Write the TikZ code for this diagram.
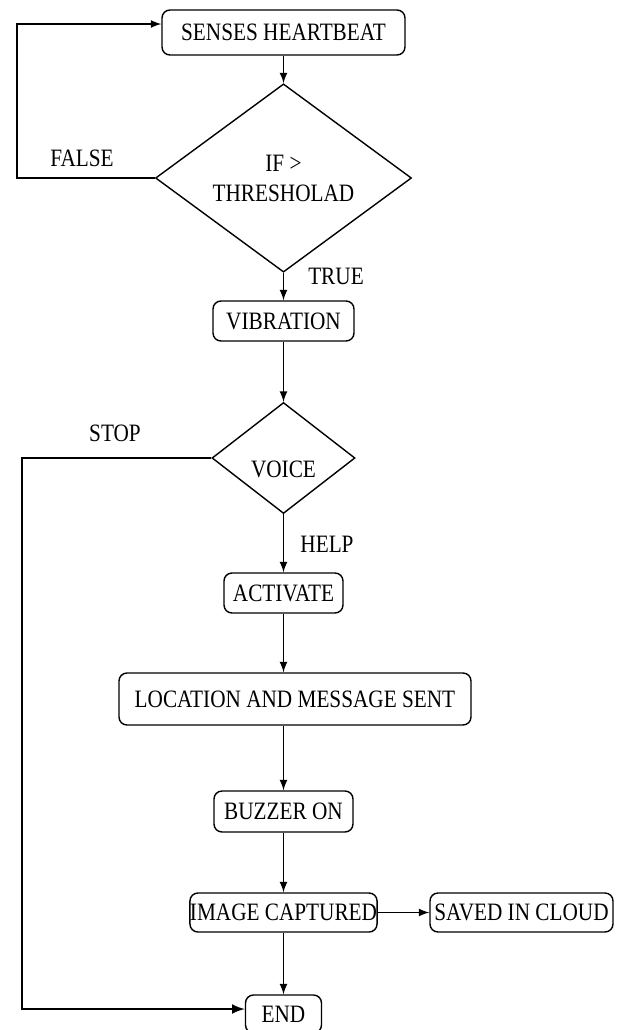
\documentclass[tikz,border=0pt]{standalone}
\usepackage{fontspec}
\setmainfont{Liberation Serif}[FakeStretch=0.85]
\usetikzlibrary{shapes.geometric}

\begin{document}
\begin{tikzpicture}[x=0.5pt,y=-0.5pt,>=latex]

    \tikzset{
      stepbox/.style={
        draw,
        line width=0.7pt,
        rounded corners=4pt,
        inner sep=0pt,
        font=\fontsize{12.5}{15}\selectfont,
      },
      choice/.style={
        draw,
        diamond,
        line width=0.7pt,
        inner sep=0pt,
        align=center,
        font=\fontsize{12.5}{15}\selectfont,
      },
      flow/.style={line width=0.8pt,->},
      tag/.style={font=\fontsize{12.5}{15}\selectfont},
    }
    \useasboundingbox (0,0) rectangle (617,1030);

	\node[stepbox,minimum width=121.5pt,minimum height=22.5pt] (heart) at (283.5,32.5) {SENSES HEARTBEAT};
	\node[choice,minimum width=128pt,minimum height=62.5pt] (test) at (283.5,178) {IF >\\THRESHOLAD};
	\node[stepbox,minimum width=70.5pt,minimum height=20pt] (vib) at (283.5,321) {VIBRATION};
	\node[choice,minimum width=71.5pt,minimum height=55.5pt,text height=19pt,text depth=0pt] (voice) at (283.5,458) {VOICE};
	\node[stepbox,minimum width=59.5pt,minimum height=20pt] (act) at (283.5,593) {ACTIVATE};
	\node[stepbox,minimum width=176pt,minimum height=26pt] (loc) at (295,699) {LOCATION AND MESSAGE SENT};
	\node[stepbox,minimum width=69.5pt,minimum height=20.5pt] (buzz) at (283.5,811.5) {BUZZER ON};
	\node[stepbox,minimum width=91.5pt,minimum height=19.5pt] (shot) at (283.5,912.5) {IMAGE CAPTURED};
	\node[stepbox,minimum width=91.5pt,minimum height=19.5pt] (cloud) at (521.5,912.5) {SAVED IN CLOUD};
	\node[stepbox,minimum width=38pt,minimum height=19pt] (done) at (283.5,1014) {END};

	\node[tag] (false) at (82,158) {FALSE};
	\node[tag] (true) at (336,276) {TRUE};
	\node[tag] (stop) at (115,433) {STOP};
	\node[tag] (help) at (327,544) {HELP};

	\coordinate (fbend) at (17,24);
	\coordinate (sbend) at (22,1009);

	\draw[flow] (heart) -- (test);
	\draw[flow] (test) -- (vib);
	\draw[flow] (vib) -- (voice);
	\draw[flow] (voice) -- (act);
	\draw[flow] (act.south) -- (act.south |- loc.north);
	\draw[flow] (act.south |- loc.south) -- (buzz);
	\draw[flow] (buzz) -- (shot);
	\draw[flow] (shot) -- (done);
	\draw[flow] (shot) -- (cloud);
	\draw[flow] (test.west) -| (fbend) -- (fbend -| heart.west);
	\draw[flow,line width=1.2pt] (voice.west) -| (sbend) -- (sbend -| done.west);

\end{tikzpicture}
\end{document}
